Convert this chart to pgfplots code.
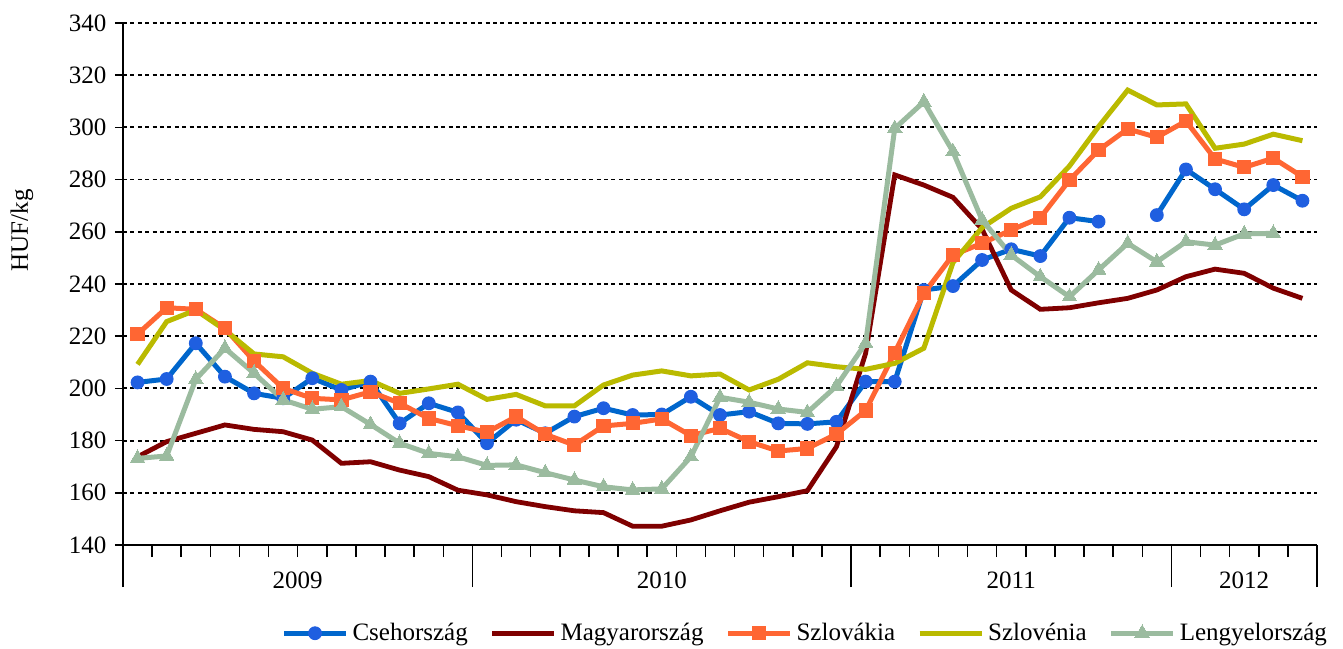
\documentclass[border=0pt]{standalone}
\usepackage{pgfplots}
\pgfplotsset{compat=1.18}
\usepackage{fontspec}
\setmainfont{Liberation Serif}
\definecolor{cseh}{HTML}{0066CC}
\definecolor{csehm}{HTML}{1F5FE0}
\definecolor{magyar}{HTML}{7F0000}
\definecolor{szlovak}{HTML}{FF6633}
\definecolor{szloven}{HTML}{BABA00}
\definecolor{lengyel}{HTML}{9BBB9F}
\begin{document}
\fontsize{12.5}{15}\selectfont
\begin{tikzpicture}
\path[use as bounding box] (-61.5pt,-51.5pt) rectangle (610pt,272.5pt);
\begin{axis}[
  at={(0,0)}, anchor=south west,
  scale only axis, width=597pt, height=261pt,
  xmin=-0.5, xmax=40.5, ymin=140, ymax=340,
  axis x line*=bottom, axis y line*=left,
  axis line style={line width=1pt, -},
  ytick={140,160,...,340},
  xtick={5.5,18,30,38},
  xticklabels={2009,2010,2011,2012},
  minor xtick={0.5,1.5,...,39.5},
  tick align=outside,
  major tick length=4pt, minor tick length=6pt,
  every tick/.style={line width=0.75pt, black},
  major x tick style={draw=none},
  xticklabel style={yshift=-5pt},
  extra x ticks={-0.5,11.5,24.5,35.5,40.5},
  extra x tick labels={},
  extra x tick style={major tick length=21pt, major x tick style={draw=black, line width=0.75pt}},
  ymajorgrids,
  grid style={black, line width=0.9pt, dash pattern=on 2pt off 1.7pt},
  /pgf/number format/assume math mode=true,
  tick label style={font=\fontsize{12.5}{15}\selectfont},
  ylabel={HUF/kg},
  every axis y label/.style={at={(axis description cs:-0.0846,0.603)}, rotate=90, anchor=center, font=\fontsize{12.5}{15}\selectfont},
  unbounded coords=jump,
  legend columns=-1,
  legend style={at={(1.012,-0.169)}, anchor=east, draw=none, fill=none, inner sep=0pt,
    font=\fontsize{12.5}{15}\selectfont,
    /tikz/every even column/.append style={column sep=9pt}},
  legend cell align=left,
  legend image code/.code={\draw[mark repeat=2,mark phase=2,#1] plot coordinates {(0pt,0pt) (15.5pt,0pt) (31pt,0pt)};},
]
\addplot[cseh, line width=2.5pt, mark=*, mark size=3.2pt, mark options={fill=csehm, draw=csehm, line width=0.5pt}] coordinates {
(0,202.3) (1,203.6) (2,217.3) (3,204.5) (4,198.1) (5,196.2) (6,203.9) (7,199.4) (8,202.6) (9,186.6)
(10,194.3) (11,190.8) (12,179.0) (13,188.0) (14,182.8) (15,189.2) (16,192.4) (17,189.8) (18,190.0) (19,196.8)
(20,189.8) (21,191.1) (22,186.6) (23,186.4) (24,187.2) (25,202.6) (26,202.6) (27,237.7) (28,239.2) (29,249.2)
(30,253.3) (31,250.7) (32,265.4) (33,263.9) (34,nan) (35,266.4) (36,283.9) (37,276.3) (38,268.6) (39,277.9) (40,271.9)};
\addlegendentry{Csehország}
\addplot[magyar, line width=2.4pt, no markers] coordinates {
(0,173.8) (1,179.6) (2,182.8) (3,186.0) (4,184.3) (5,183.4) (6,180.2) (7,171.3) (8,171.9) (9,168.7)
(10,166.2) (11,161.0) (12,159.2) (13,156.6) (14,154.7) (15,153.1) (16,152.4) (17,147.2) (18,147.2) (19,149.6)
(20,153.1) (21,156.4) (22,158.5) (23,160.8) (24,177.7) (25,213.4) (26,281.8) (27,277.9) (28,273.2) (29,261.0)
(30,237.7) (31,230.3) (32,230.9) (33,232.8) (34,234.5) (35,237.7) (36,242.8) (37,245.7) (38,244.1) (39,238.4) (40,234.5)};
\addlegendentry{Magyarország}
\addplot[szlovak, line width=2.5pt, mark=square*, mark size=3.3pt, mark options={solid, line width=0pt}] coordinates {
(0,220.8) (1,230.9) (2,230.3) (3,223.0) (4,210.5) (5,200.0) (6,196.2) (7,195.6) (8,198.7) (9,194.3)
(10,188.5) (11,185.7) (12,183.2) (13,189.2) (14,182.4) (15,178.3) (16,185.6) (17,186.6) (18,188.3) (19,181.9)
(20,184.7) (21,179.6) (22,176.0) (23,177.0) (24,182.5) (25,191.5) (26,213.7) (27,236.4) (28,251.1) (29,255.6)
(30,260.7) (31,265.4) (32,279.8) (33,291.3) (34,299.4) (35,296.2) (36,302.4) (37,287.9) (38,284.7) (39,288.2) (40,281.1)};
\addlegendentry{Szlovákia}
\addplot[szloven, line width=2.5pt, no markers] coordinates {
(0,209.2) (1,225.6) (2,230.0) (3,222.4) (4,213.2) (5,212.1) (6,205.8) (7,201.6) (8,203.0) (9,198.1)
(10,199.8) (11,201.6) (12,195.8) (13,197.7) (14,193.3) (15,193.3) (16,201.3) (17,205.1) (18,206.7) (19,204.8)
(20,205.5) (21,199.4) (22,203.5) (23,209.8) (24,208.3) (25,207.3) (26,209.6) (27,215.4) (28,248.2) (29,261.6)
(30,269.0) (31,273.4) (32,285.2) (33,300.3) (34,314.3) (35,308.6) (36,309.0) (37,292.0) (38,293.6) (39,297.4) (40,294.9)};
\addlegendentry{Szlovénia}
\addplot[lengyel, line width=2.5pt, mark=triangle*, mark size=4.2pt, mark options={solid, line width=0pt}] coordinates {
(0,173.2) (1,174.1) (2,203.5) (3,215.4) (4,205.8) (5,195.6) (6,192.0) (7,193.0) (8,186.2) (9,179.0)
(10,175.1) (11,173.8) (12,170.5) (13,170.7) (14,167.7) (15,164.9) (16,162.3) (17,161.1) (18,161.5) (19,173.8)
(20,196.6) (21,194.7) (22,192.1) (23,190.8) (24,200.9) (25,217.3) (26,299.6) (27,309.8) (28,290.7) (29,264.5)
(30,251.1) (31,242.8) (32,235.1) (33,245.4) (34,255.6) (35,248.5) (36,256.2) (37,254.9) (38,259.2) (39,259.4)};
\addlegendentry{Lengyelország}
\end{axis}
\end{tikzpicture}
\end{document}
